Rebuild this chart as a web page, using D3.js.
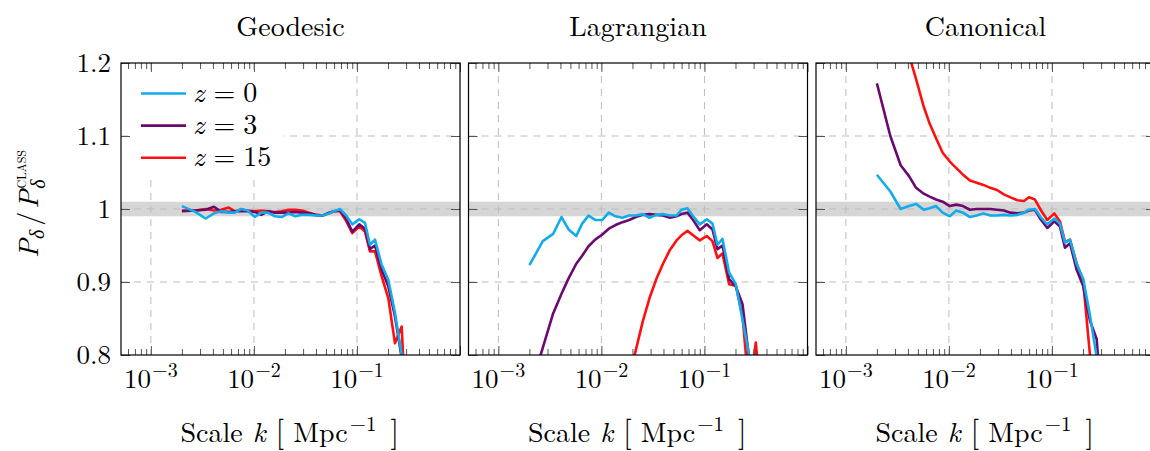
<!DOCTYPE html>
<html>
<head>
<meta charset="utf-8">
<script src="https://cdn.jsdelivr.net/npm/d3@7"></script>
<style>
  body { margin: 0; background: #fff; }
</style>
</head>
<body>
<svg id="chart" width="1150" height="451"></svg>
<script>
// Wavenumber bins k [Mpc^-1]
const kBins = [0.0020, 0.0027, 0.0034, 0.0041, 0.0048, 0.0057, 0.0065, 0.0075, 0.0087, 0.0102,
  0.0118, 0.0137, 0.0160, 0.0186, 0.0216, 0.0252, 0.0293, 0.0341, 0.0396, 0.0462, 0.0536,
  0.0598, 0.0684, 0.0776, 0.0901, 0.1054, 0.1196, 0.1337, 0.1496, 0.1734, 0.2014, 0.2338,
  0.2716, 0.3148, 0.3656, 0.4246];

// P_delta / P_delta^CLASS per gauge and redshift
const geodesicZ0 = [1.004, 0.996, 0.987, 0.994, 0.997, 0.995, 0.995, 1.000, 0.998, 0.989, 0.995, 0.995, 0.990, 0.989, 0.994, 0.990, 0.992, 0.992, 0.991, 0.991, 0.994, 0.997, 1.000, 0.992, 0.979, 0.986, 0.981, 0.951, 0.958, 0.924, 0.903, 0.858, 0.800, 0.74, 0.70, 0.68];
const geodesicZ3 = [0.997, 0.998, 0.999, 1.003, 0.996, 0.996, 0.997, 0.997, 0.997, 0.996, 0.992, 0.997, 0.995, 0.995, 0.995, 0.996, 0.995, 0.994, 0.992, 0.991, 0.995, 0.997, 0.998, 0.988, 0.969, 0.979, 0.973, 0.945, 0.950, 0.917, 0.894, 0.853, 0.796, 0.73, 0.70, 0.68];
const geodesicZ15 = [0.998, 0.998, 1.000, 0.998, 0.999, 1.002, 0.997, 0.999, 0.998, 0.997, 0.998, 0.997, 0.996, 0.997, 0.999, 0.999, 0.998, 0.995, 0.992, 0.991, 0.994, 0.997, 0.997, 0.985, 0.967, 0.976, 0.969, 0.942, 0.942, 0.908, 0.878, 0.816, 0.839, 0.65, 0.68, 0.66];

const lagrangianZ0 = [0.923, 0.956, 0.966, 0.989, 0.972, 0.963, 0.980, 0.991, 0.985, 0.985, 0.995, 0.990, 0.988, 0.991, 0.991, 0.993, 0.988, 0.992, 0.993, 0.991, 0.991, 0.999, 1.001, 0.990, 0.979, 0.986, 0.980, 0.951, 0.959, 0.913, 0.897, 0.849, 0.800, 0.74, 0.70, 0.68];
const lagrangianZ3 = [0.750, 0.810, 0.857, 0.884, 0.905, 0.925, 0.936, 0.949, 0.958, 0.965, 0.973, 0.978, 0.982, 0.985, 0.989, 0.992, 0.993, 0.992, 0.991, 0.988, 0.990, 0.993, 0.995, 0.985, 0.971, 0.979, 0.972, 0.945, 0.950, 0.904, 0.894, 0.870, 0.795, 0.74, 0.70, 0.68];
const lagrangianZ15 = [null, null, null, null, null, null, null, null, null, null, null, null, 0.732, 0.770, 0.807, 0.846, 0.878, 0.904, 0.925, 0.944, 0.957, 0.964, 0.970, 0.964, 0.957, 0.963, 0.956, 0.933, 0.939, 0.897, 0.895, 0.854, 0.750, 0.817, 0.720, 0.700];

const canonicalZ0 = [1.047, 1.024, 1.000, 1.004, 1.007, 0.999, 1.001, 1.004, 0.995, 0.990, 0.998, 0.995, 0.989, 0.991, 0.994, 0.991, 0.991, 0.992, 0.991, 0.992, 0.995, 0.999, 1.000, 0.989, 0.979, 0.987, 0.980, 0.954, 0.958, 0.925, 0.904, 0.854, 0.797, 0.74, 0.70, 0.68];
const canonicalZ3 = [1.172, 1.100, 1.060, 1.045, 1.029, 1.021, 1.017, 1.013, 1.010, 1.004, 1.006, 1.004, 0.999, 1.000, 1.000, 1.000, 0.999, 0.998, 0.995, 0.994, 0.995, 0.998, 0.999, 0.986, 0.974, 0.983, 0.976, 0.947, 0.953, 0.917, 0.894, 0.847, 0.822, 0.70, 0.68, 0.66];
const canonicalZ15 = [null, null, null, 1.211, 1.178, 1.140, 1.117, 1.097, 1.077, 1.065, 1.056, 1.047, 1.039, 1.036, 1.033, 1.029, 1.026, 1.020, 1.016, 1.012, 1.011, 1.016, 1.013, 0.999, 0.985, 0.994, 0.983, 0.955, 0.958, 0.926, 0.899, 0.800, 0.720, 0.700, 0.680, 0.660];

const panelTitles = ["Geodesic", "Lagrangian", "Canonical"];
const redshiftLabels = ["0", "3", "15"];
const seriesColors = ["#12acea", "#6a0a6e", "#ff1010"];
const yTicks = [0.8, 0.9, 1.0, 1.1, 1.2];
const yTickLabels = ["0.8", "0.9", "1", "1.1", "1.2"];
const xDecades = [1e-3, 1e-2, 1e-1];
const xDecadeExponents = ["\u22123", "\u22122", "\u22121"];
const bandRange = [0.99, 1.01];

const panelSeries = [
  [geodesicZ0, geodesicZ3, geodesicZ15],
  [lagrangianZ0, lagrangianZ3, lagrangianZ15],
  [canonicalZ0, canonicalZ3, canonicalZ15]
];

// ---- layout ----
const svg = d3.select("#chart");
const FONT = "Latin Modern Roman";
const panelLeft = [121, 468.5, 816];
const panelTop = 63;
const W = 339, H = 292;
const majorLen = 9, minorLen = 6;
const tickColor = "#555";

const x = d3.scaleLog().domain([Math.pow(10, -3.29), 1]).range([0, W]);
const y = d3.scaleLinear().domain([0.8, 1.2]).range([H, 0]);

const minorTicks = [];
[1e-4, 1e-3, 1e-2, 1e-1].forEach(d => {
  for (let m = 2; m <= 9; m++) {
    const v = d * m;
    if (v >= x.domain()[0] && v <= x.domain()[1]) minorTicks.push(v);
  }
});
const majorX = xDecades.concat([1]);

const defs = svg.append("defs");
defs.append("clipPath").attr("id", "plotClip")
  .append("rect").attr("x", 0).attr("y", 0).attr("width", W).attr("height", H);

const line = d3.line()
  .defined(d => d.v !== null)
  .x(d => x(d.k))
  .y(d => y(d.v));

function label(sel) {
  return sel.append("text").attr("font-family", FONT).attr("fill", "#000");
}

panelSeries.forEach((series, p) => {
  const g = svg.append("g").attr("transform", `translate(${panelLeft[p]},${panelTop})`);

  // tolerance band around unity
  g.append("rect")
    .attr("x", 0).attr("width", W)
    .attr("y", y(bandRange[1])).attr("height", y(bandRange[0]) - y(bandRange[1]))
    .attr("fill", "#d6d6d6");

  // dashed grid
  const grid = g.append("g").attr("stroke", "#bdbdbd").attr("stroke-width", 1).attr("stroke-dasharray", "7,6");
  grid.selectAll(".gx").data(xDecades).join("line")
    .attr("x1", d => x(d)).attr("x2", d => x(d)).attr("y1", 0).attr("y2", H);
  grid.selectAll(".gy").data(yTicks.slice(1, -1)).join("line")
    .attr("x1", 0).attr("x2", W).attr("y1", d => y(d)).attr("y2", d => y(d));

  // curves: z=15, z=3, then z=0 on top
  const plot = g.append("g").attr("clip-path", "url(#plotClip)");
  [2, 1, 0].forEach(i => {
    const data = kBins.map((k, j) => ({ k: k, v: series[i][j] }));
    plot.append("path")
      .datum(data)
      .attr("d", line)
      .attr("fill", "none")
      .attr("stroke", seriesColors[i])
      .attr("stroke-width", 2.6)
      .attr("stroke-linejoin", "round");
  });

  // legend (first panel)
  if (p === 0) {
    const lg = g.append("g");
    lg.append("rect").attr("x", 8).attr("y", 8).attr("width", 154).attr("height", 108).attr("fill", "#fff");
    redshiftLabels.forEach((z, i) => {
      const ly = 30.5 + i * 32.1;
      lg.append("line").attr("x1", 20).attr("x2", 65).attr("y1", ly).attr("y2", ly)
        .attr("stroke", seriesColors[i]).attr("stroke-width", 2.6);
      const t = label(lg).attr("x", 72).attr("y", ly + 8).attr("font-size", 28);
      t.append("tspan").attr("font-style", "italic").text("z");
      t.append("tspan").attr("dx", 9).text("=");
      t.append("tspan").attr("dx", 8).text(z);
    });
  }

  // inward ticks on all four sides
  const axes = g.append("g");
  const styleAxis = sel => {
    sel.select(".domain").remove();
    sel.selectAll("line").attr("stroke", tickColor).attr("stroke-width", 1);
    sel.selectAll("text").remove();
  };
  axes.append("g").attr("transform", `translate(0,${H})`)
    .call(d3.axisBottom(x).tickValues(majorX).tickSize(-majorLen)).call(styleAxis);
  axes.append("g").attr("transform", `translate(0,${H})`)
    .call(d3.axisBottom(x).tickValues(minorTicks).tickSize(-minorLen)).call(styleAxis);
  axes.append("g")
    .call(d3.axisTop(x).tickValues(majorX).tickSize(-majorLen)).call(styleAxis);
  axes.append("g")
    .call(d3.axisTop(x).tickValues(minorTicks).tickSize(-minorLen)).call(styleAxis);
  axes.append("g")
    .call(d3.axisLeft(y).tickValues(yTicks).tickSize(-majorLen)).call(styleAxis);
  axes.append("g").attr("transform", `translate(${W},0)`)
    .call(d3.axisRight(y).tickValues(yTicks).tickSize(-majorLen)).call(styleAxis);

  // frame
  g.append("rect").attr("x", 0).attr("y", 0).attr("width", W).attr("height", H)
    .attr("fill", "none").attr("stroke", "#000").attr("stroke-width", 1.2);

  // x tick labels 10^n
  xDecades.forEach((d, i) => {
    const t = label(g).attr("x", x(d)).attr("y", H + 33)
      .attr("text-anchor", "middle").attr("font-size", 27);
    t.append("tspan").text("10");
    t.append("tspan").attr("font-size", 20).attr("dy", -11).attr("dx", 1).text(xDecadeExponents[i]);
  });

  // y tick labels (first panel)
  if (p === 0) {
    yTicks.forEach((d, i) => {
      label(g).attr("x", -10).attr("y", y(d)).attr("dy", "0.34em")
        .attr("text-anchor", "end").attr("font-size", 27)
        .text(yTickLabels[i]);
    });
  }

  // panel title
  label(g).attr("x", W / 2).attr("y", 36 - panelTop)
    .attr("text-anchor", "middle").attr("font-size", 28).text(panelTitles[p]);

  // x axis title
  const xt = label(g).attr("x", W / 2 - 110).attr("y", 442 - panelTop)
    .attr("font-size", 28);
  xt.append("tspan").text("Scale");
  xt.append("tspan").attr("dx", 10).attr("font-style", "italic").text("k");
  xt.append("tspan").attr("dx", 10).attr("font-size", 31).text("[");
  xt.append("tspan").attr("dx", 9).text("Mpc");
  xt.append("tspan").attr("font-size", 21).attr("dy", -11).attr("dx", 2).text("\u22121");
  xt.append("tspan").attr("font-size", 31).attr("dy", 11).attr("dx", 14).text("]");
});

// y axis title
const yt = label(svg)
  .attr("transform", "translate(38,204) rotate(-90)")
  .attr("text-anchor", "middle").attr("font-size", 28);
yt.append("tspan").attr("font-style", "italic").text("P");
yt.append("tspan").attr("font-size", 20).attr("font-style", "italic").attr("dy", 6).text("\u03b4");
yt.append("tspan").attr("dy", -6).attr("dx", 4).text("/");
yt.append("tspan").attr("dx", 3).attr("font-style", "italic").text("P");
yt.append("tspan").attr("font-size", 20).attr("font-style", "italic").attr("dy", 7).attr("dx", 1).text("\u03b4");
yt.append("tspan").attr("font-size", 12).attr("dy", -19).attr("dx", -9).text("CLASS");
</script>
</body>
</html>
